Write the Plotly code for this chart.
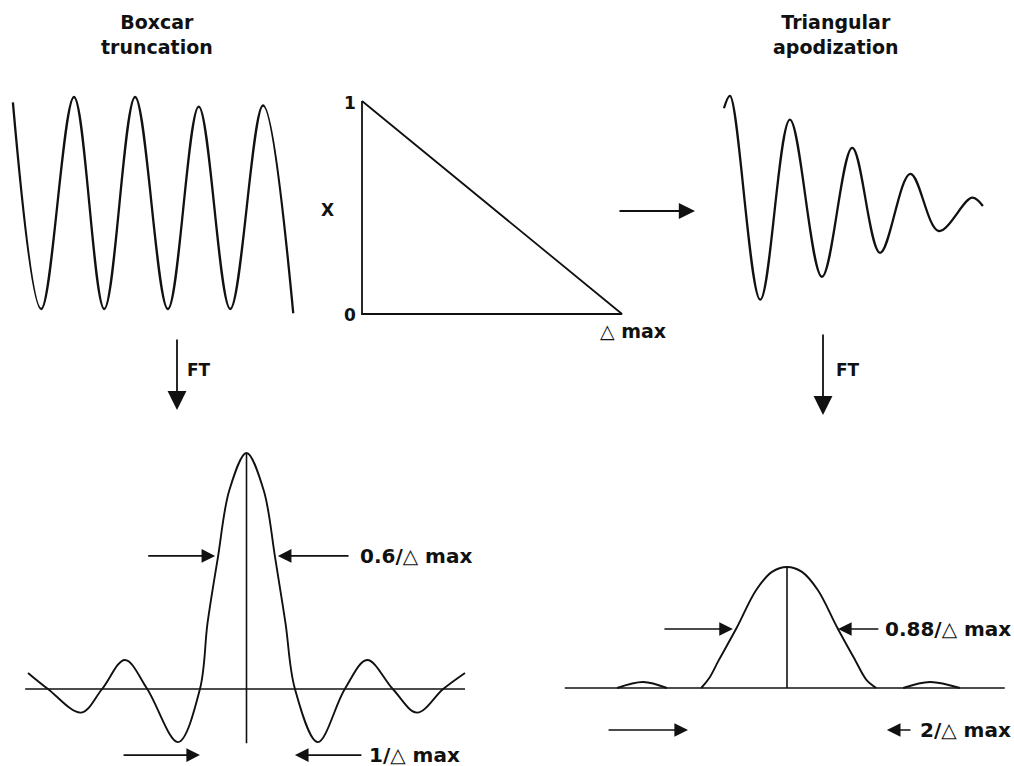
import plotly.graph_objects as go

W, H = 1014, 766
INK = "#111111"

# ---------------------------------------------------------------- data ----
# Boxcar-truncated interferogram (extrema; x in fringe periods)
boxcar_x = [0.03, 0.48, 1.0, 1.48, 1.97, 2.49, 2.98, 3.48, 4.0, 4.48]
boxcar_y = [0.95, -1.0, 1.0, -1.0, 1.0, -1.0, 0.91, -1.0, 0.92, -1.04]

# Triangular apodization function, A(Δ) from 1 at Δ=0 to 0 at Δmax
tri_x = [0, 0, 1, 0]
tri_y = [1, 0, 0, 1]

# Apodized interferogram (extrema; x in fringe periods)
apod_x = [-0.1, 0.0, 0.5, 0.99, 1.52, 2.02, 2.48, 2.98, 3.45, 4.0, 4.18]
apod_y = [0.93, 1.05, -0.91, 0.82, -0.69, 0.55, -0.46, 0.30, -0.25, 0.07, -0.01]

# Boxcar instrument line shape (sinc); x in units of 1/(2 Δmax)
sinc_x = [-4.6, -4.18, -3.48, -3.04, -2.56, -2.09, -1.44, -0.98,
          -0.82, -0.6, -0.36, 0.0, 0.36, 0.6, 0.82,
          1.02, 1.5, 2.07, 2.54, 3.08, 3.59, 4.14, 4.6]
sinc_y = [0.068, 0.0, -0.10, 0.0, 0.123, 0.0, -0.225, 0.0,
          0.28, 0.56, 0.843, 1.0, 0.843, 0.56, 0.28,
          0.0, -0.225, 0.0, 0.123, 0.0, -0.10, 0.0, 0.068]
sinc_base_x = [-4.66, 4.6]
sinc_stem_y = [-0.23, 1.0]

# Triangular instrument line shape (sinc^2): main lobe and first side lobes
sq_main_x = [-1.95, -1.77, -1.55, -1.14, -0.70, -0.34, 0.0, 0.34, 0.70, 1.14, 1.55, 1.80, 2.03]
sq_main_y = [0.0, 0.08, 0.23, 0.5, 0.81, 0.96, 1.0, 0.96, 0.81, 0.5, 0.23, 0.07, 0.0]
sq_left_x = [-3.86, -3.27, -2.73]
sq_left_y = [0.0, 0.05, 0.0]
sq_right_x = [2.64, 3.25, 3.93]
sq_right_y = [0.0, 0.05, 0.0]
sq_base_x = [-5.05, 4.95]
sq_stem_y = [0.0, 1.0]

# Width markers: (tail x, tip x, y, label x, label)
sinc_marks = [(-2.1, -0.66, 0.564, None, None),
              (2.18, 0.66, 0.564, 2.35, "0.6/△ max"),
              (-2.62, -0.98, -0.28, None, None),
              (2.45, 1.02, -0.28, 2.54, "1/△ max")]
sq_marks = [(-2.82, -1.23, 0.488, None, None),
            (2.11, 1.16, 0.488, 2.18, "0.88/△ max"),
            (-4.09, -2.25, -0.347, None, None),
            (2.84, 2.27, -0.347, 2.98, "2/△ max")]

# ------------------------------------------------------------- layout ----
# panel: x origin (px), px per unit, x range, y origin (px), px per unit, y range
panels = {
    1: (11, 63, (-0.15, 4.7), 203, 106, (-1.2, 1.2)),
    2: (362, 260, (-0.05, 1.05), 314, 213, (-0.05, 1.05)),
    3: (730, 60.5, (-0.3, 4.4), 205, 104, (-1.2, 1.2)),
    4: (246.5, 47.5, (-4.9, 4.9), 689, 236, (-0.3, 1.1)),
    5: (787, 44, (-5.2, 5.0), 688, 121, (-0.6, 1.2)),
}

fig = go.Figure()
for i, (x0, sx, xr, y0, sy, yr) in panels.items():
    s = "" if i == 1 else str(i)
    xd = [(x0 + xr[0] * sx) / W, (x0 + xr[1] * sx) / W]
    yd = [1 - (y0 - yr[0] * sy) / H, 1 - (y0 - yr[1] * sy) / H]
    fig.update_layout({
        f"xaxis{s}": dict(domain=xd, range=list(xr), visible=False, anchor=f"y{s}", fixedrange=True),
        f"yaxis{s}": dict(domain=yd, range=list(yr), visible=False, anchor=f"x{s}", fixedrange=True),
    })


def line(x, y, ax, width=2.0, spline=True):
    s = "" if ax == 1 else str(ax)
    fig.add_trace(go.Scatter(
        x=x, y=y, mode="lines", xaxis=f"x{s}", yaxis=f"y{s}",
        line=dict(color=INK, width=width, shape="spline" if spline else "linear", smoothing=1.0),
        hoverinfo="skip", showlegend=False))


line(boxcar_x, boxcar_y, 1, 2.3)
line(tri_x, tri_y, 2, 1.8, spline=False)
line(apod_x, apod_y, 3, 2.3)

line(sinc_base_x, [0, 0], 4, 1.6, spline=False)
line([0, 0], sinc_stem_y, 4, 1.6, spline=False)
line(sinc_x, sinc_y, 4, 1.9)

line(sq_base_x, [0, 0], 5, 1.6, spline=False)
line([0, 0], sq_stem_y, 5, 1.6, spline=False)
line(sq_main_x, sq_main_y, 5, 1.9)
line(sq_left_x, sq_left_y, 5, 1.9)
line(sq_right_x, sq_right_y, 5, 1.9)

LBL = dict(family="DejaVu Sans", size=20, color=INK)
TTL = dict(family="DejaVu Sans", size=19, color=INK)
SML = dict(family="DejaVu Sans", size=17, color=INK)

ann = []
for ax, marks in ((4, sinc_marks), (5, sq_marks)):
    for tail, tip, yv, lx, text in marks:
        ann.append(dict(x=tip, y=yv, ax=tail, ay=yv, xref=f"x{ax}", yref=f"y{ax}",
                        axref=f"x{ax}", ayref=f"y{ax}", text="", showarrow=True,
                        arrowhead=2, arrowsize=1.7, arrowwidth=1.6, arrowcolor=INK))
        if text:
            ann.append(dict(x=lx, y=yv, xref=f"x{ax}", yref=f"y{ax}", text=f"<b>{text}</b>",
                            showarrow=False, xanchor="left", yanchor="middle", font=LBL))

# Triangle labels
ann += [
    dict(x=0, y=1, xref="x2", yref="y2", text="<b>1</b>", showarrow=False,
         xanchor="right", yanchor="middle", xshift=-4, yshift=-2, font=SML),
    dict(x=0, y=0, xref="x2", yref="y2", text="<b>0</b>", showarrow=False,
         xanchor="right", yanchor="middle", xshift=-4, yshift=-1, font=SML),
    dict(x=0, y=0.5, xref="x2", yref="y2", text="<b>X</b>", showarrow=False,
         xanchor="center", yanchor="middle", xshift=-35, yshift=-2, font=SML),
    dict(x=1, y=0, xref="x2", yref="y2", text="<b>△ max</b>", showarrow=False,
         xanchor="center", yanchor="middle", xshift=11, yshift=-17,
         font=dict(family="DejaVu Sans", size=19, color=INK)),
]

# Titles
ann += [
    dict(x=157 / W, y=1 - 34 / H, xref="paper", yref="paper", text="<b>Boxcar<br>truncation</b>",
         showarrow=False, xanchor="center", yanchor="middle", font=TTL),
    dict(x=836 / W, y=1 - 34 / H, xref="paper", yref="paper", text="<b>Triangular<br>apodization</b>",
         showarrow=False, xanchor="center", yanchor="middle", font=TTL),
]

# Flow arrows
ann += [
    dict(x=695 / W, y=1 - 211 / H, xref="paper", yref="paper", ax=-77, ay=0, text="",
         showarrow=True, arrowhead=2, arrowsize=1.8, arrowwidth=1.8, arrowcolor=INK),
    dict(x=177 / W, y=1 - 410 / H, xref="paper", yref="paper", ax=0, ay=-72, text="",
         showarrow=True, arrowhead=2, arrowsize=2.1, arrowwidth=1.8, arrowcolor=INK),
    dict(x=823 / W, y=1 - 415 / H, xref="paper", yref="paper", ax=0, ay=-82, text="",
         showarrow=True, arrowhead=2, arrowsize=2.1, arrowwidth=1.8, arrowcolor=INK),
    dict(x=185 / W, y=1 - 370 / H, xref="paper", yref="paper", text="<b>FT</b>", showarrow=False,
         xanchor="left", yanchor="middle", font=SML),
    dict(x=834 / W, y=1 - 370 / H, xref="paper", yref="paper", text="<b>FT</b>", showarrow=False,
         xanchor="left", yanchor="middle", font=SML),
]

fig.update_layout(
    width=W, height=H, margin=dict(l=0, r=0, t=0, b=0),
    paper_bgcolor="white", plot_bgcolor="rgba(0,0,0,0)",
    showlegend=False, annotations=ann,
)

fig.write_html("out.html", config={"displayModeBar": False})
